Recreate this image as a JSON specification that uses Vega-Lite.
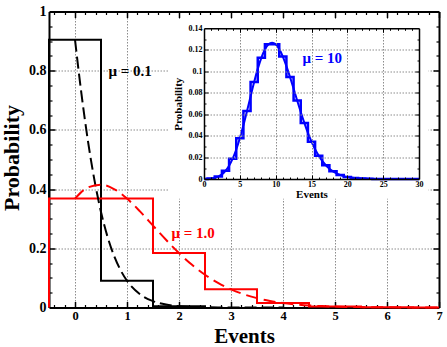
{
  "$schema": "https://vega.github.io/schema/vega-lite/v6.json",
  "width": 390,
  "height": 296,
  "autosize": {"type": "none"},
  "padding": {"left": 49, "top": 11.5, "right": 8, "bottom": 39.5},
  "background": "white",
  "config": {
    "view": {"stroke": null},
    "axis": {
      "labelFlush": false, "labelOverlap": false,
      "labelFont": "Liberation Serif", "titleFont": "Liberation Serif",
      "labelFontWeight": "bold", "titleFontWeight": "bold",
      "labelColor": "black", "titleColor": "black",
      "tickColor": "black", "domainColor": "black",
      "gridColor": "#8c8c8c", "gridDash": [1.5, 1.5], "gridWidth": 1
    }
  },
  "datasets": {
    "blackStep": [
      {"i": 0, "x": -0.5, "y": 0}, {"i": 1, "x": -0.5, "y": 0.9048}, {"i": 2, "x": 0.5, "y": 0.0905},
      {"i": 3, "x": 1.5, "y": 0.0045}, {"i": 4, "x": 2.5, "y": 0.0002}
    ],
    "redStep": [
      {"i": 0, "x": -0.5, "y": 0}, {"i": 1, "x": -0.5, "y": 0.3679}, {"i": 2, "x": 1.5, "y": 0.1839},
      {"i": 3, "x": 2.5, "y": 0.0613}, {"i": 4, "x": 3.5, "y": 0.0153}, {"i": 5, "x": 4.5, "y": 0.0031},
      {"i": 6, "x": 5.5, "y": 0.0005}, {"i": 7, "x": 6.5, "y": 0.0001}, {"i": 8, "x": 7, "y": 0.0001}
    ],
    "blackCurve": [
      {"x": 0, "y": 0.9048}, {"x": 0.125, "y": 0.7205}, {"x": 0.25, "y": 0.5613}, {"x": 0.375, "y": 0.4293},
      {"x": 0.5, "y": 0.3229}, {"x": 0.625, "y": 0.2393}, {"x": 0.75, "y": 0.175}, {"x": 0.875, "y": 0.1266},
      {"x": 1, "y": 0.0905}, {"x": 1.25, "y": 0.0449}, {"x": 1.5, "y": 0.0215}, {"x": 1.75, "y": 0.01},
      {"x": 2, "y": 0.0045}, {"x": 2.25, "y": 0.002}, {"x": 2.5, "y": 0.0009}, {"x": 2.75, "y": 0.0004},
      {"x": 3, "y": 0.00015}, {"x": 3.5, "y": 0.00002}, {"x": 4, "y": 0}
    ],
    "redCurve": [
      {"x": 0, "y": 0.3679}, {"x": 0.25, "y": 0.4059}, {"x": 0.5, "y": 0.4151}, {"x": 0.75, "y": 0.4003},
      {"x": 1, "y": 0.3679}, {"x": 1.25, "y": 0.3247}, {"x": 1.5, "y": 0.2767}, {"x": 1.75, "y": 0.2287},
      {"x": 2, "y": 0.1839}, {"x": 2.25, "y": 0.1443}, {"x": 2.5, "y": 0.1107}, {"x": 2.75, "y": 0.0832},
      {"x": 3, "y": 0.0613}, {"x": 3.25, "y": 0.0444}, {"x": 3.5, "y": 0.0316}, {"x": 3.75, "y": 0.0222},
      {"x": 4, "y": 0.0153}, {"x": 4.25, "y": 0.0105}, {"x": 4.5, "y": 0.007}, {"x": 4.75, "y": 0.0047},
      {"x": 5, "y": 0.0031}, {"x": 5.5, "y": 0.0013}, {"x": 6, "y": 0.0005}, {"x": 6.5, "y": 0.0002},
      {"x": 7, "y": 0.0001}
    ],
    "blueStep": [
      {"i": 0, "x": 0, "y": 0.00005}, {"i": 1, "x": 0.5, "y": 0.00045}, {"i": 2, "x": 1.5, "y": 0.0023},
      {"i": 3, "x": 2.5, "y": 0.0076}, {"i": 4, "x": 3.5, "y": 0.0189}, {"i": 5, "x": 4.5, "y": 0.0378},
      {"i": 6, "x": 5.5, "y": 0.0631}, {"i": 7, "x": 6.5, "y": 0.0901}, {"i": 8, "x": 7.5, "y": 0.1126},
      {"i": 9, "x": 8.5, "y": 0.1251}, {"i": 10, "x": 9.5, "y": 0.1251}, {"i": 11, "x": 10.5, "y": 0.1137},
      {"i": 12, "x": 11.5, "y": 0.0948}, {"i": 13, "x": 12.5, "y": 0.0729}, {"i": 14, "x": 13.5, "y": 0.0521},
      {"i": 15, "x": 14.5, "y": 0.0347}, {"i": 16, "x": 15.5, "y": 0.0217}, {"i": 17, "x": 16.5, "y": 0.0128},
      {"i": 18, "x": 17.5, "y": 0.0071}, {"i": 19, "x": 18.5, "y": 0.0037}, {"i": 20, "x": 19.5, "y": 0.0019},
      {"i": 21, "x": 20.5, "y": 0.0009}, {"i": 22, "x": 21.5, "y": 0.0004}, {"i": 23, "x": 22.5, "y": 0.0002},
      {"i": 24, "x": 23.5, "y": 0.0001}, {"i": 25, "x": 24.5, "y": 0}, {"i": 26, "x": 30, "y": 0}
    ],
    "blueCurve": [
      {"x": 0, "y": 0.00005}, {"x": 0.5, "y": 0.00016}, {"x": 1, "y": 0.00045}, {"x": 1.5, "y": 0.00108},
      {"x": 2, "y": 0.00227}, {"x": 2.5, "y": 0.00432}, {"x": 3, "y": 0.00757}, {"x": 3.5, "y": 0.01234},
      {"x": 4, "y": 0.01892}, {"x": 4.5, "y": 0.02743}, {"x": 5, "y": 0.03783}, {"x": 5.5, "y": 0.04987},
      {"x": 6, "y": 0.06306}, {"x": 6.5, "y": 0.07672}, {"x": 7, "y": 0.09008}, {"x": 7.5, "y": 0.1023},
      {"x": 8, "y": 0.1126}, {"x": 8.5, "y": 0.12035}, {"x": 9, "y": 0.1251}, {"x": 9.5, "y": 0.12668},
      {"x": 10, "y": 0.1251}, {"x": 10.5, "y": 0.12065}, {"x": 11, "y": 0.11374}, {"x": 11.5, "y": 0.10491},
      {"x": 12, "y": 0.09478}, {"x": 12.5, "y": 0.08393}, {"x": 13, "y": 0.07291}, {"x": 13.5, "y": 0.06217},
      {"x": 14, "y": 0.05208}, {"x": 14.5, "y": 0.04288}, {"x": 15, "y": 0.03472}, {"x": 15.5, "y": 0.02766},
      {"x": 16, "y": 0.0217}, {"x": 16.5, "y": 0.01676}, {"x": 17, "y": 0.01276}, {"x": 17.5, "y": 0.00958},
      {"x": 18, "y": 0.00709}, {"x": 18.5, "y": 0.00518}, {"x": 19, "y": 0.00373}, {"x": 19.5, "y": 0.00266},
      {"x": 20, "y": 0.00187}, {"x": 21, "y": 0.00089}, {"x": 22, "y": 0.0004}, {"x": 23, "y": 0.00018},
      {"x": 24, "y": 0.00007}, {"x": 25, "y": 0.00003}, {"x": 26, "y": 0.00001}, {"x": 28, "y": 0}, {"x": 30, "y": 0}
    ]
  },
  "resolve": {"scale": {"x": "independent", "y": "independent"}, "axis": {"x": "independent", "y": "independent"}},
  "layer": [
    {
      "resolve": {"axis": {"x": "independent", "y": "independent"}},
      "layer": [
        {
          "data": {"values": [{}]},
          "mark": {"type": "rect", "color": "white"},
          "encoding": {
            "x": {"datum": 1.79, "type": "quantitative", "scale": {"domain": [-0.5, 7], "nice": false, "zero": false}, "axis": null},
            "x2": {"datum": 6.8},
            "y": {"datum": 0.367, "type": "quantitative", "scale": {"domain": [0, 1], "nice": false, "zero": false}, "axis": null},
            "y2": {"datum": 0.975}
          }
        },
        {
          "data": {"name": "blackStep"},
          "mark": {"type": "line", "interpolate": "step-after", "color": "black", "strokeWidth": 2},
          "encoding": {
            "order": {"field": "i"},
            "x": {"field": "x", "type": "quantitative", "scale": {"domain": [-0.5, 7], "nice": false, "zero": false},
              "axis": {"orient": "bottom", "grid": true, "values": [0, 1, 2, 3, 4, 5, 6], "ticks": false, "labels": false, "domain": false, "title": null}},
            "y": {"field": "y", "type": "quantitative", "scale": {"domain": [0, 1], "nice": false, "zero": false},
              "axis": {"orient": "left", "grid": true, "values": [0.2, 0.4, 0.6, 0.8], "ticks": false, "labels": false, "domain": false, "title": null}}
          }
        },
        {
          "data": {"name": "redStep"},
          "mark": {"type": "line", "interpolate": "step-after", "color": "#ff0000", "strokeWidth": 2},
          "encoding": {
            "order": {"field": "i"},
            "x": {"field": "x", "type": "quantitative", "scale": {"domain": [-0.5, 7], "nice": false, "zero": false},
              "axis": {"orient": "bottom", "grid": false, "values": [0, 1, 2, 3, 4, 5, 6, 7], "format": "d", "ticks": false,
                "labelFontSize": 12.5, "labelPadding": 2, "domain": true, "domainWidth": 2,
                "title": "Events", "titleFontSize": 21, "titleY": 35, "titleBaseline": "alphabetic"}},
            "y": {"field": "y", "type": "quantitative", "scale": {"domain": [0, 1], "nice": false, "zero": false},
              "axis": {"orient": "left", "grid": false, "values": [0, 0.2, 0.4, 0.6, 0.8, 1], "format": ".1~f", "ticks": false,
                "labelFontSize": 14, "labelPadding": 3, "domain": true, "domainWidth": 2,
                "title": "Probability", "titleFontSize": 22, "titleAngle": 270, "titleX": -31, "titleY": 146, "titleBaseline": "alphabetic"}}
          }
        },
        {
          "data": {"name": "blackCurve"},
          "mark": {"type": "line", "interpolate": "monotone", "color": "black", "strokeWidth": 2, "strokeDash": [12, 5]},
          "encoding": {
            "x": {"field": "x", "type": "quantitative", "scale": {"domain": [-0.5, 7], "nice": false, "zero": false},
              "axis": {"orient": "bottom", "values": [0, 1, 2, 3, 4, 5, 6, 7], "tickSize": -6, "tickWidth": 1.5, "labels": false, "domain": false, "grid": false, "title": null}},
            "y": {"field": "y", "type": "quantitative", "scale": {"domain": [0, 1], "nice": false, "zero": false},
              "axis": {"orient": "left", "values": [0.2, 0.4, 0.6, 0.8], "tickSize": -6, "tickWidth": 1.5, "labels": false, "domain": false, "grid": false, "title": null}}
          }
        },
        {
          "data": {"name": "redCurve"},
          "mark": {"type": "line", "interpolate": "monotone", "color": "#ff0000", "strokeWidth": 2, "strokeDash": [12, 6]},
          "encoding": {
            "x": {"field": "x", "type": "quantitative", "scale": {"domain": [-0.5, 7], "nice": false, "zero": false},
              "axis": {"orient": "bottom", "values": [-0.4, -0.2, 0.2, 0.4, 0.6, 0.8, 1.2, 1.4, 1.6, 1.8, 2.2, 2.4, 2.6, 2.8, 3.2, 3.4, 3.6, 3.8, 4.2, 4.4, 4.6, 4.8, 5.2, 5.4, 5.6, 5.8, 6.2, 6.4, 6.6, 6.8],
                "tickSize": -3, "tickWidth": 1.2, "labels": false, "domain": false, "grid": false, "title": null}},
            "y": {"field": "y", "type": "quantitative", "scale": {"domain": [0, 1], "nice": false, "zero": false},
              "axis": {"orient": "left", "values": [0.05, 0.1, 0.15, 0.25, 0.3, 0.35, 0.45, 0.5, 0.55, 0.65, 0.7, 0.75, 0.85, 0.9, 0.95],
                "tickSize": -3, "tickWidth": 1.2, "labels": false, "domain": false, "grid": false, "title": null}}
          }
        },
        {
          "data": {"values": [{"x": 1.06, "y": 0.8, "label": "μ = 0.1"}]},
          "mark": {"type": "text", "font": "Liberation Serif", "fontSize": 15, "fontWeight": "bold", "color": "black", "align": "center", "baseline": "middle"},
          "encoding": {
            "text": {"field": "label"},
            "x": {"field": "x", "type": "quantitative", "scale": {"domain": [-0.5, 7], "nice": false, "zero": false},
              "axis": {"orient": "top", "values": [0, 1, 2, 3, 4, 5, 6, 7], "tickSize": -6, "tickWidth": 1.5, "labels": false, "domain": true, "domainWidth": 2, "grid": false, "title": null}},
            "y": {"field": "y", "type": "quantitative", "scale": {"domain": [0, 1], "nice": false, "zero": false},
              "axis": {"orient": "right", "values": [0.2, 0.4, 0.6, 0.8], "tickSize": -6, "tickWidth": 1.5, "labels": false, "domain": true, "domainWidth": 2, "grid": false, "title": null}}
          }
        },
        {
          "data": {"values": [{"x": 2.27, "y": 0.252, "label": "μ = 1.0"}]},
          "mark": {"type": "text", "font": "Liberation Serif", "fontSize": 15, "fontWeight": "bold", "color": "#ff0000", "align": "center", "baseline": "middle"},
          "encoding": {
            "text": {"field": "label"},
            "x": {"field": "x", "type": "quantitative", "scale": {"domain": [-0.5, 7], "nice": false, "zero": false},
              "axis": {"orient": "top", "values": [-0.4, -0.2, 0.2, 0.4, 0.6, 0.8, 1.2, 1.4, 1.6, 1.8, 2.2, 2.4, 2.6, 2.8, 3.2, 3.4, 3.6, 3.8, 4.2, 4.4, 4.6, 4.8, 5.2, 5.4, 5.6, 5.8, 6.2, 6.4, 6.6, 6.8],
                "tickSize": -3, "tickWidth": 1.2, "labels": false, "domain": false, "grid": false, "title": null}},
            "y": {"field": "y", "type": "quantitative", "scale": {"domain": [0, 1], "nice": false, "zero": false},
              "axis": {"orient": "right", "values": [0.05, 0.1, 0.15, 0.25, 0.3, 0.35, 0.45, 0.5, 0.55, 0.65, 0.7, 0.75, 0.85, 0.9, 0.95],
                "tickSize": -3, "tickWidth": 1.2, "labels": false, "domain": false, "grid": false, "title": null}}
          }
        }
      ]
    },
    {
      "resolve": {"axis": {"x": "independent", "y": "independent"}},
      "layer": [
        {
          "data": {"name": "blueStep"},
          "mark": {"type": "line", "interpolate": "step-after", "color": "#0000ff", "strokeWidth": 2.5},
          "encoding": {
            "order": {"field": "i"},
            "x": {"field": "x", "type": "quantitative", "scale": {"domain": [0, 30], "range": [155, 370], "nice": false, "zero": false},
              "axis": {"orient": "bottom", "offset": -128.5, "zindex": 1, "values": [0, 5, 10, 15, 20, 25, 30], "format": "d", "ticks": false,
                "labelFontSize": 8, "labelPadding": 1.5, "domain": true, "domainWidth": 1.5, "grid": false,
                "title": "Events", "titleFontSize": 11, "titleX": 262.5, "titleY": 18, "titleBaseline": "alphabetic"}},
            "y": {"field": "y", "type": "quantitative", "scale": {"domain": [0, 0.14], "range": [167.5, 16.8], "nice": false, "zero": false},
              "axis": {"orient": "left", "offset": -155, "zindex": 1, "values": [0, 0.02, 0.04, 0.06, 0.08, 0.1, 0.12, 0.14], "format": ".2~f", "ticks": false,
                "labelFontSize": 8, "labelPadding": 2, "domain": true, "domainWidth": 1.5, "grid": false,
                "title": "Probability", "titleFontSize": 11, "titleAngle": 270, "titleX": -23, "titleY": 92.15, "titleBaseline": "alphabetic"}}
          }
        },
        {
          "data": {"name": "blueCurve"},
          "mark": {"type": "line", "interpolate": "monotone", "color": "#0000ff", "strokeWidth": 2},
          "encoding": {
            "x": {"field": "x", "type": "quantitative", "scale": {"domain": [0, 30], "range": [155, 370], "nice": false, "zero": false},
              "axis": {"orient": "top", "offset": -16.8, "zindex": 1, "values": [0, 5, 10, 15, 20, 25, 30], "grid": true, "tickSize": -4, "tickWidth": 1,
                "labels": false, "domain": true, "domainWidth": 1.5, "title": null}},
            "y": {"field": "y", "type": "quantitative", "scale": {"domain": [0, 0.14], "range": [167.5, 16.8], "nice": false, "zero": false},
              "axis": {"orient": "left", "offset": -155, "zindex": 1, "values": [0.02, 0.04, 0.06, 0.08, 0.1, 0.12], "grid": true, "tickSize": -4, "tickWidth": 1,
                "labels": false, "domain": false, "title": null}}
          }
        },
        {
          "data": {"values": [{"x": 16.5, "y": 0.1121, "label": "μ = 10"}]},
          "mark": {"type": "text", "font": "Liberation Serif", "fontSize": 15, "fontWeight": "bold", "color": "#0000ff", "align": "center", "baseline": "middle"},
          "encoding": {
            "text": {"field": "label"},
            "x": {"field": "x", "type": "quantitative", "scale": {"domain": [0, 30], "range": [155, 370], "nice": false, "zero": false},
              "axis": {"orient": "bottom", "offset": -128.5, "zindex": 1, "values": [5, 10, 15, 20, 25], "tickSize": -4, "tickWidth": 1,
                "labels": false, "domain": false, "grid": false, "title": null}},
            "y": {"field": "y", "type": "quantitative", "scale": {"domain": [0, 0.14], "range": [167.5, 16.8], "nice": false, "zero": false},
              "axis": {"orient": "right", "offset": -20, "zindex": 1, "values": [0.02, 0.04, 0.06, 0.08, 0.1, 0.12], "tickSize": -4, "tickWidth": 1,
                "labels": false, "domain": true, "domainWidth": 1.5, "grid": false, "title": null}}
          }
        },
        {
          "data": {"name": "blueCurve"},
          "mark": {"type": "point", "opacity": 0},
          "encoding": {
            "x": {"field": "x", "type": "quantitative", "scale": {"domain": [0, 30], "range": [155, 370], "nice": false, "zero": false},
              "axis": {"orient": "bottom", "offset": -128.5, "zindex": 1, "values": [1, 2, 3, 4, 6, 7, 8, 9, 11, 12, 13, 14, 16, 17, 18, 19, 21, 22, 23, 24, 26, 27, 28, 29],
                "tickSize": -2, "tickWidth": 1, "labels": false, "domain": false, "grid": false, "title": null}},
            "y": {"field": "y", "type": "quantitative", "scale": {"domain": [0, 0.14], "range": [167.5, 16.8], "nice": false, "zero": false},
              "axis": {"orient": "right", "offset": -20, "zindex": 1, "values": [0.01, 0.03, 0.05, 0.07, 0.09, 0.11, 0.13],
                "tickSize": -2, "tickWidth": 1, "labels": false, "domain": false, "grid": false, "title": null}}
          }
        },
        {
          "data": {"name": "blueStep"},
          "mark": {"type": "point", "opacity": 0},
          "encoding": {
            "x": {"field": "x", "type": "quantitative", "scale": {"domain": [0, 30], "range": [155, 370], "nice": false, "zero": false},
              "axis": {"orient": "top", "offset": -16.8, "zindex": 1, "values": [1, 2, 3, 4, 6, 7, 8, 9, 11, 12, 13, 14, 16, 17, 18, 19, 21, 22, 23, 24, 26, 27, 28, 29],
                "tickSize": -2, "tickWidth": 1, "labels": false, "domain": false, "grid": false, "title": null}},
            "y": {"field": "y", "type": "quantitative", "scale": {"domain": [0, 0.14], "range": [167.5, 16.8], "nice": false, "zero": false},
              "axis": {"orient": "left", "offset": -155, "zindex": 1, "values": [0.01, 0.03, 0.05, 0.07, 0.09, 0.11, 0.13],
                "tickSize": -2, "tickWidth": 1, "labels": false, "domain": false, "grid": false, "title": null}}
          }
        }
      ]
    }
  ]
}
